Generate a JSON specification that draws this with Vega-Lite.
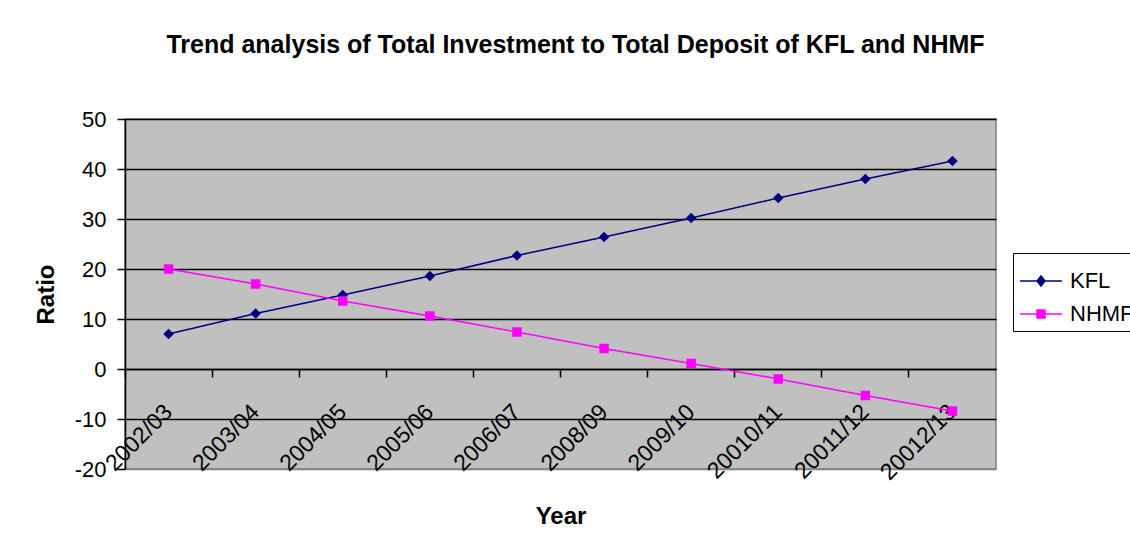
{
  "$schema": "https://vega.github.io/schema/vega-lite/v6.json",
  "width": 871,
  "height": 350,
  "autosize": "none",
  "padding": {"left": 125, "top": 119, "right": 134, "bottom": 81},
  "background": "white",
  "title": {
    "text": "Trend analysis of Total Investment to Total Deposit of KFL and NHMF",
    "font": "Liberation Sans",
    "fontSize": 25,
    "fontWeight": "bold",
    "color": "black",
    "baseline": "alphabetic",
    "offset": 66,
    "dx": 15,
    "dy": 36
  },
  "config": {
    "view": {"fill": "#c0c0c0", "stroke": "#808080", "strokeWidth": 1.5}
  },
  "data": {
    "values": [
      {"Year": "2002/03", "Series": "KFL", "Ratio": 7.0},
      {"Year": "2003/04", "Series": "KFL", "Ratio": 11.1},
      {"Year": "2004/05", "Series": "KFL", "Ratio": 14.8},
      {"Year": "2005/06", "Series": "KFL", "Ratio": 18.6},
      {"Year": "2006/07", "Series": "KFL", "Ratio": 22.7},
      {"Year": "2008/09", "Series": "KFL", "Ratio": 26.4},
      {"Year": "2009/10", "Series": "KFL", "Ratio": 30.2},
      {"Year": "20010/11", "Series": "KFL", "Ratio": 34.2},
      {"Year": "20011/12", "Series": "KFL", "Ratio": 38.0},
      {"Year": "20012/13", "Series": "KFL", "Ratio": 41.6},
      {"Year": "2002/03", "Series": "NHMF", "Ratio": 20.0},
      {"Year": "2003/04", "Series": "NHMF", "Ratio": 17.0},
      {"Year": "2004/05", "Series": "NHMF", "Ratio": 13.6},
      {"Year": "2005/06", "Series": "NHMF", "Ratio": 10.6},
      {"Year": "2006/07", "Series": "NHMF", "Ratio": 7.4},
      {"Year": "2008/09", "Series": "NHMF", "Ratio": 4.1},
      {"Year": "2009/10", "Series": "NHMF", "Ratio": 1.1},
      {"Year": "20010/11", "Series": "NHMF", "Ratio": -2.0},
      {"Year": "20011/12", "Series": "NHMF", "Ratio": -5.3},
      {"Year": "20012/13", "Series": "NHMF", "Ratio": -8.4}
    ]
  },
  "encoding": {
    "x": {
      "field": "Year",
      "type": "nominal",
      "sort": null,
      "scale": {"type": "band", "paddingInner": 0, "paddingOuter": 0},
      "axis": {
        "orient": "bottom",
        "offset": -100,
        "bandPosition": 0,
        "labelOffset": 0,
        "labelAngle": -45,
        "labelAlign": "right",
        "labelBaseline": "middle",
        "labelPadding": 31,
        "labelOverlap": false,
        "labelBound": false,
        "labelFont": "Liberation Sans",
        "labelFontSize": 23,
        "labelColor": "black",
        "tickSize": 8,
        "tickColor": "black",
        "tickWidth": 1.5,
        "domainColor": "black",
        "domainWidth": 1.5,
        "grid": false,
        "title": "Year",
        "titleFont": "Liberation Sans",
        "titleFontSize": 24,
        "titleFontWeight": "bold",
        "titleColor": "black",
        "titleBaseline": "alphabetic",
        "titleY": 154
      }
    },
    "y": {
      "field": "Ratio",
      "type": "quantitative",
      "scale": {"domain": [-20, 50], "nice": false, "zero": false},
      "axis": {
        "values": [-20, -10, 0, 10, 20, 30, 40, 50],
        "labelExpr": "'' + datum.value",
        "tickSize": 8,
        "tickColor": "black",
        "tickWidth": 1.5,
        "domainColor": "black",
        "domainWidth": 1.5,
        "labelFont": "Liberation Sans",
        "labelFontSize": 22,
        "labelColor": "black",
        "labelPadding": 11,
        "grid": true,
        "gridColor": {"condition": {"test": "datum.value === -20", "value": "#808080"}, "value": "black"},
        "gridOpacity": 1,
        "gridWidth": 1.5,
        "title": "Ratio",
        "titleFont": "Liberation Sans",
        "titleFontSize": 24,
        "titleFontWeight": "bold",
        "titleColor": "black",
        "titleBaseline": "middle",
        "titleX": -79
      }
    }
  },
  "layer": [
    {
      "mark": {"type": "line", "strokeWidth": 1.5},
      "encoding": {
        "color": {
          "field": "Series",
          "type": "nominal",
          "scale": {"domain": ["KFL", "NHMF"], "range": ["#000080", "#ff00ff"]},
          "legend": {
            "title": null,
            "orient": "none",
            "legendX": 888,
            "legendY": 134,
            "direction": "vertical",
            "fillColor": "white",
            "strokeColor": "black",
            "padding": 6,
            "symbolSize": 1764,
            "symbolStrokeWidth": 1.5,
            "labelFont": "Liberation Sans",
            "labelFontSize": 22,
            "labelColor": "black",
            "labelOffset": 7,
            "rowPadding": -6,
            "labelLimit": 200,
            "encode": {
              "symbols": {
                "update": {
                  "shape": {"signal": "datum.value === 'KFL' ? 'M-1,0H1M0,-0.24L0.19,0L0,0.24L-0.19,0Z' : 'M-1,0H1M-0.19,-0.19H0.19V0.19H-0.19Z'"},
                  "fill": {"signal": "scale('color', datum.value)"},
                  "stroke": {"signal": "scale('color', datum.value)"},
                  "strokeWidth": {"value": 1.5},
                  "opacity": {"value": 1},
                  "fillOpacity": {"value": 1}
                }
              }
            }
          }
        }
      }
    },
    {
      "transform": [{"filter": "datum.Series === 'KFL'"}],
      "mark": {"type": "point", "shape": "diamond", "filled": true, "opacity": 1, "size": 110, "color": "#000080"}
    },
    {
      "transform": [{"filter": "datum.Series === 'NHMF'"}],
      "mark": {"type": "point", "shape": "square", "filled": true, "opacity": 1, "size": 90, "color": "#ff00ff"}
    }
  ]
}
